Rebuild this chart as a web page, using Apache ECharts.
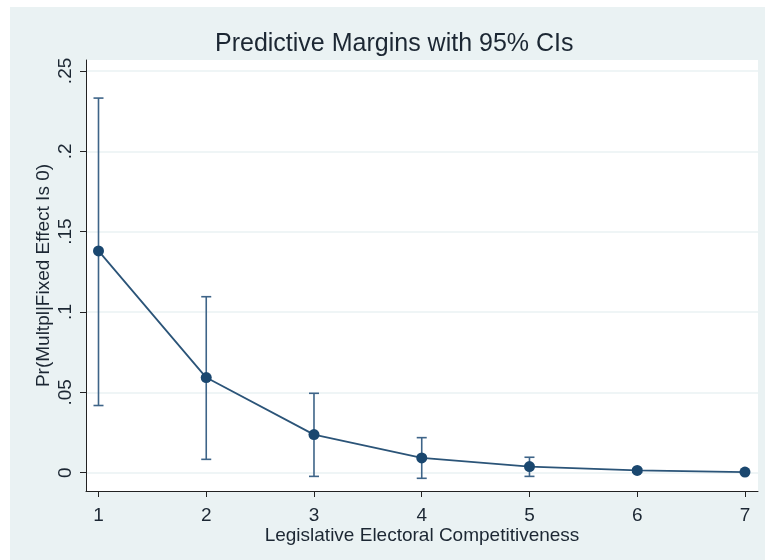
<!DOCTYPE html>
<html>
<head>
<meta charset="utf-8">
<script src="https://cdn.jsdelivr.net/npm/echarts@6/dist/echarts.min.js"></script>
<style>
  html, body { margin: 0; padding: 0; background: #ffffff; }
  #chart { width: 765px; height: 560px; }
</style>
</head>
<body>
<div id="chart"></div>
<script>
// Predictive margins by level of legislative electoral competitiveness
const levels = [1, 2, 3, 4, 5, 6, 7];
const margins = [0.138, 0.0592, 0.0237, 0.0092, 0.0038, 0.0014, 0.0004];
const ciLower = [0.0418, 0.0083, -0.0023, -0.0035, -0.0023, 0.0003, 0.0001];
const ciUpper = [0.2331, 0.1095, 0.0494, 0.0218, 0.0096, 0.0025, 0.0007];
const yTicks = [0, 0.05, 0.1, 0.15, 0.2, 0.25];
const yTickLabels = ['0', '.05', '.1', '.15', '.2', '.25'];
const xTicks = [1, 2, 3, 4, 5, 6, 7];

const navy = '#1a476f';
const textColor = '#1c2733';
const font = 'Liberation Sans';

const chart = echarts.init(document.getElementById('chart'), null, { renderer: 'canvas' });

const ciData = levels.map((x, i) => [x, ciLower[i], ciUpper[i]]);

chart.setOption({
  animation: false,
  backgroundColor: '#ffffff',
  graphic: [{
    type: 'rect',
    z: -10,
    shape: { x: 10, y: 7, width: 755, height: 553 },
    style: { fill: '#eaf2f3' }
  }],
  title: {
    text: 'Predictive Margins with 95% CIs',
    left: 210,
    top: 27,
    textStyle: { fontFamily: font, fontWeight: 'normal', fontSize: 25, color: textColor }
  },
  grid: {
    left: 86, right: 7, top: 60, bottom: 69,
    show: true, backgroundColor: '#ffffff', borderWidth: 0
  },
  xAxis: {
    type: 'value',
    min: 0.884, max: 7.121,
    name: 'Legislative Electoral Competitiveness',
    nameLocation: 'middle',
    nameGap: 35,
    nameMoveOverlap: false,
    nameTextStyle: { fontFamily: font, fontSize: 19, color: textColor },
    axisLine: { show: true, onZero: false, lineStyle: { color: '#222222', width: 1 } },
    axisTick: { show: true, length: 6, customValues: xTicks, lineStyle: { color: '#222222' } },
    axisLabel: {
      customValues: xTicks, margin: 15,
      fontFamily: font, fontSize: 19, color: textColor
    },
    splitLine: { show: false }
  },
  yAxis: {
    type: 'value',
    min: -0.0114, max: 0.2568,
    name: 'Pr(Multpl|Fixed Effect Is 0)',
    nameLocation: 'middle',
    nameGap: 33,
    nameMoveOverlap: false,
    nameRotate: 90,
    nameTextStyle: { fontFamily: font, fontSize: 19, color: textColor },
    axisLine: { show: true, onZero: false, lineStyle: { color: '#222222', width: 1 } },
    axisTick: { show: true, length: 6, customValues: yTicks, lineStyle: { color: '#222222' } },
    axisLabel: {
      customValues: yTicks, rotate: 90, margin: 11,
      fontFamily: font, fontSize: 19, color: textColor,
      formatter: v => {
        const i = yTicks.findIndex(t => Math.abs(t - v) < 1e-9);
        return i >= 0 ? yTickLabels[i] : '';
      }
    },
    splitLine: { show: false }
  },
  series: [
    {
      // horizontal reference lines at the labelled y values
      type: 'line',
      data: [],
      silent: true,
      z: 0,
      markLine: {
        silent: true,
        symbol: 'none',
        z: 0,
        label: { show: false },
        lineStyle: { color: '#eaf2f3', width: 1.5, type: 'solid' },
        data: yTicks.map(v => ({ yAxis: v }))
      }
    },
    {
      // 95% confidence intervals drawn as capped spikes
      type: 'custom',
      data: ciData,
      z: 5,
      renderItem: (params, api) => {
        const x = api.value(0);
        const lo = api.coord([x, api.value(1)]);
        const hi = api.coord([x, api.value(2)]);
        const cap = 5;
        const style = { stroke: '#3e6488', lineWidth: 1.6 };
        return {
          type: 'group',
          children: [
            { type: 'line', shape: { x1: lo[0], y1: lo[1], x2: hi[0], y2: hi[1] }, style },
            { type: 'line', shape: { x1: lo[0] - cap, y1: lo[1], x2: lo[0] + cap, y2: lo[1] }, style },
            { type: 'line', shape: { x1: hi[0] - cap, y1: hi[1], x2: hi[0] + cap, y2: hi[1] }, style }
          ]
        };
      }
    },
    {
      type: 'line',
      data: levels.map((x, i) => [x, margins[i]]),
      z: 6,
      symbol: 'circle',
      symbolSize: 11,
      lineStyle: { color: '#2b5478', width: 1.8 },
      itemStyle: { color: navy, borderWidth: 0 }
    }
  ]
});
</script>
</body>
</html>
